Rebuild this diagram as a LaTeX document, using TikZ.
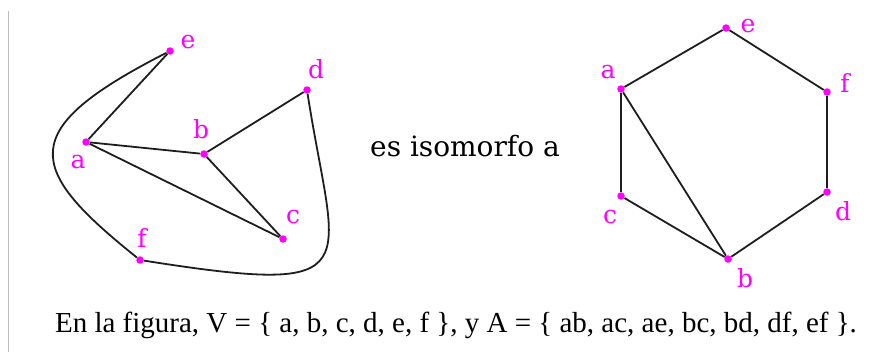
\documentclass[tikz,border=0pt]{standalone}
\usepackage{fontspec}
\setmainfont{Liberation Serif}
\newfontfamily\slabfont{DejaVu Serif}
\usetikzlibrary{positioning}
\definecolor{vmag}{RGB}{255,0,255}
\definecolor{inkline}{RGB}{30,30,30}

\begin{document}
\begin{tikzpicture}[x=1pt, y=-1pt,
    vtx/.style={circle, fill=vmag, inner sep=0pt, minimum size=7.5pt},
    lbl/.style={anchor=base, inner sep=0pt, text=vmag, font=\slabfont\fontsize{25}{25}\selectfont},
    link/.style={line width=1.8pt, inkline}]
        % Frame
        \fill[white] (0,0) rectangle (888,356);
        \useasboundingbox (0,0) rectangle (888,356);
        \draw[black!25, line width=1pt] (8,11) -- (8,352);

        % Nodes (first graph)
        \node (a1) [vtx] at (86,142) {};
        \node (b1) [vtx] at (204,154) {};
        \node (c1) [vtx] at (283,239) {};
        \node (d1) [vtx] at (307,90) {};
        \node (e1) [vtx] at (170,51) {};
        \node (f1) [vtx] at (140,260) {};
        \node (la1) [lbl] at (78,168) {a};
        \node (lb1) [lbl] at (201,138) {b};
        \node (lc1) [lbl] at (293,223) {c};
        \node (ld1) [lbl] at (316,78) {d};
        \node (le1) [lbl] at (188,48) {e};
        \node (lf1) [lbl] at (142,247) {f};

        % Edges (first graph)
        \draw[link] (a1) -- (b1);
        \draw[link] (a1) -- (c1);
        \draw[link] (a1) -- (e1);
        \draw[link] (b1) -- (c1);
        \draw[link] (b1) -- (d1);
        \draw[link] (e1) .. controls (15,130) and (25,168) .. (f1);
        \draw[link] (f1) .. controls (375,297) and (335,270) .. (d1);

        % Middle text
        \node (iso) [anchor=base, font=\slabfont\fontsize{28}{28}\selectfont] at (465,156) {es isomorfo a};

        % Nodes (hexagon)
        \node (a2) [vtx] at (621,89) {};
        \node (b2) [vtx] at (728,259) {};
        \node (c2) [vtx] at (621,196) {};
        \node (d2) [vtx] at (827,192) {};
        \node (e2) [vtx] at (726,28) {};
        \node (f2) [vtx] at (827,92) {};
        \node (la2) [lbl] at (608,78) {a};
        \node (lb2) [lbl] at (745,287) {b};
        \node (lc2) [lbl] at (610,223) {c};
        \node (ld2) [lbl] at (843,220) {d};
        \node (le2) [lbl] at (748,32) {e};
        \node (lf2) [lbl] at (845,92) {f};

        % Edges (hexagon)
        \draw[link] (a2) -- (e2);
        \draw[link] (e2) -- (f2);
        \draw[link] (f2) -- (d2);
        \draw[link] (d2) -- (b2);
        \draw[link] (b2) -- (c2);
        \draw[link] (c2) -- (a2);
        \draw[link] (a2) -- (b2);

        % Caption
        \node (caption) [anchor=base, font=\fontsize{29}{29}\selectfont] at (456,332) {En la figura, V = \{ a, b, c, d, e, f \}, y A = \{ ab, ac, ae, bc, bd, df, ef \}.};
    \end{tikzpicture}
\end{document}
